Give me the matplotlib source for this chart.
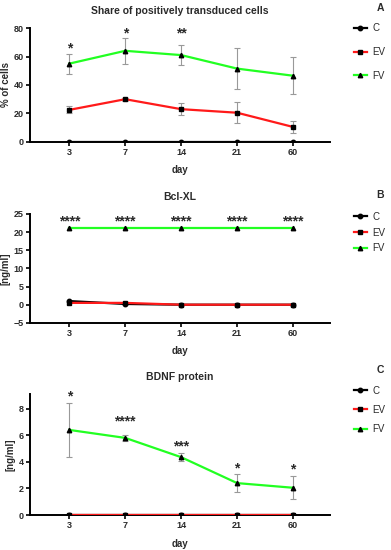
import numpy as np
import matplotlib
matplotlib.use('Agg')
import matplotlib.pyplot as plt

plt.rcParams['font.family'] = ['Liberation Sans', 'DejaVu Sans']

days = ['3', '7', '14', '21', '60']
x = np.arange(1, 6)

# panel A - share of positively transduced cells (%)
a_c = [0, 0, 0, 0, 0]
a_ev = [22.5, 30, 23, 20.5, 10.5]
a_ev_err = [2.5, 1, 4, 7.5, 4]
a_fv = [55, 64, 61, 51.5, 46.5]
a_fv_err = [7, 9, 7, 14.5, 13]
a_stars = ['*', '*', '**', '', '']
a_star_y = [66, 76, 76, 0, 0]

# panel B - Bcl-XL (ng/ml)
b_c = [1.0, 0.2, 0, 0, 0]
b_ev = [0.5, 0.5, 0, 0, 0]
b_fv = [21, 21, 21, 21, 21]
b_stars = ['****'] * 5
b_star_y = [23.0] * 5

# panel C - BDNF protein (ng/ml)
c_c = [0, 0, 0, 0, 0]
c_ev = [0, 0, 0, 0, 0]
c_fv = [6.4, 5.8, 4.35, 2.4, 2.05]
c_fv_err = [2.0, 0.2, 0.3, 0.7, 0.85]
c_stars = ['*', '****', '***', '*', '*']
c_star_y = [8.9, 7.0, 5.15, 3.5, 3.4]

GREEN = '#22ff22'
RED = '#ff1a1a'
TXT = '#2a2a2a'

fig = plt.figure(figsize=(3.91, 5.5), dpi=100)


def panel(rect, title, letter, letter_y, ylim, yticks, ylabel, c, ev, fv, ev_err, fv_err,
          stars, star_y, leg_top, leg_space, star_size):
    ax = fig.add_axes(rect)
    kw = dict(lw=1.6, ms=3.2, mec='black', mfc='black', zorder=3)
    ax.plot(x, c, color='black', marker='o', label='C', **kw)
    ax.plot(x, ev, color=RED, marker='s', label='EV', **kw)
    ax.plot(x, fv, color=GREEN, marker='^', label='FV', **kw)
    if ev_err is not None:
        ax.errorbar(x, ev, yerr=ev_err, fmt='none', ecolor='#999999', elinewidth=0.8,
                    capsize=2, capthick=0.8, zorder=2)
    if fv_err is not None:
        ax.errorbar(x, fv, yerr=fv_err, fmt='none', ecolor='#999999', elinewidth=0.8,
                    capsize=2, capthick=0.8, zorder=2)
    for xi, s, yi in zip(x, stars, star_y):
        if s:
            ax.text(xi, yi, s, ha='center', va='center', fontsize=star_size,
                    fontweight='bold', color=TXT)
    ax.set_xlim(0.3, 5.66)
    ax.set_ylim(*ylim)
    ax.set_yticks(yticks)
    ax.set_xticks(x)
    ax.set_xticklabels(days)
    for s in ['top', 'right']:
        ax.spines[s].set_visible(False)
    for s in ['left', 'bottom']:
        ax.spines[s].set_linewidth(1.4)
    ax.tick_params(width=1.2, length=3, labelsize=6.5, pad=1.5, labelcolor=TXT)
    for lab in ax.get_xticklabels() + ax.get_yticklabels():
        lab.set_fontweight('bold')
    ax.set_xlabel('day', fontsize=7, fontweight='bold', labelpad=6, color=TXT)
    ax.set_ylabel(ylabel, fontsize=7, fontweight='bold', labelpad=2, color=TXT)
    ax.set_title(title, fontsize=7.5, fontweight='bold', pad=10, color=TXT)
    ax.legend(loc='upper left', bbox_to_anchor=(1.08, leg_top), frameon=False,
              fontsize=7, handlelength=1.3, handletextpad=0.6, borderpad=0,
              labelspacing=leg_space, borderaxespad=0, labelcolor=TXT)
    fig.text(380 / 391, 1 - letter_y / 550, letter, fontsize=7.5,
             fontweight='bold', ha='center', va='center', color=TXT)
    return ax


panel([0.077, 0.742, 0.767, 0.207], 'Share of positively transduced cells', 'A', 8,
      (0, 80), [0, 20, 40, 60, 80], '% of cells', a_c, a_ev, a_fv, a_ev_err, a_fv_err,
      a_stars, a_star_y, 1.04, 1.4, 10)

panel([0.077, 0.413, 0.767, 0.198], 'Bcl-XL', 'B', 195,
      (-5, 25), [-5, 0, 5, 10, 15, 20, 25], '[ng/ml]', b_c, b_ev, b_fv, None, None,
      b_stars, b_star_y, 1.02, 0.6, 10)

panel([0.077, 0.0636, 0.767, 0.22], 'BDNF protein', 'C', 370,
      (0, 9.1), [0, 2, 4, 6, 8], '[ng/ml]', c_c, c_ev, c_fv, None, c_fv_err,
      c_stars, c_star_y, 1.07, 0.95, 10)

fig.savefig('out.png', dpi=100)
